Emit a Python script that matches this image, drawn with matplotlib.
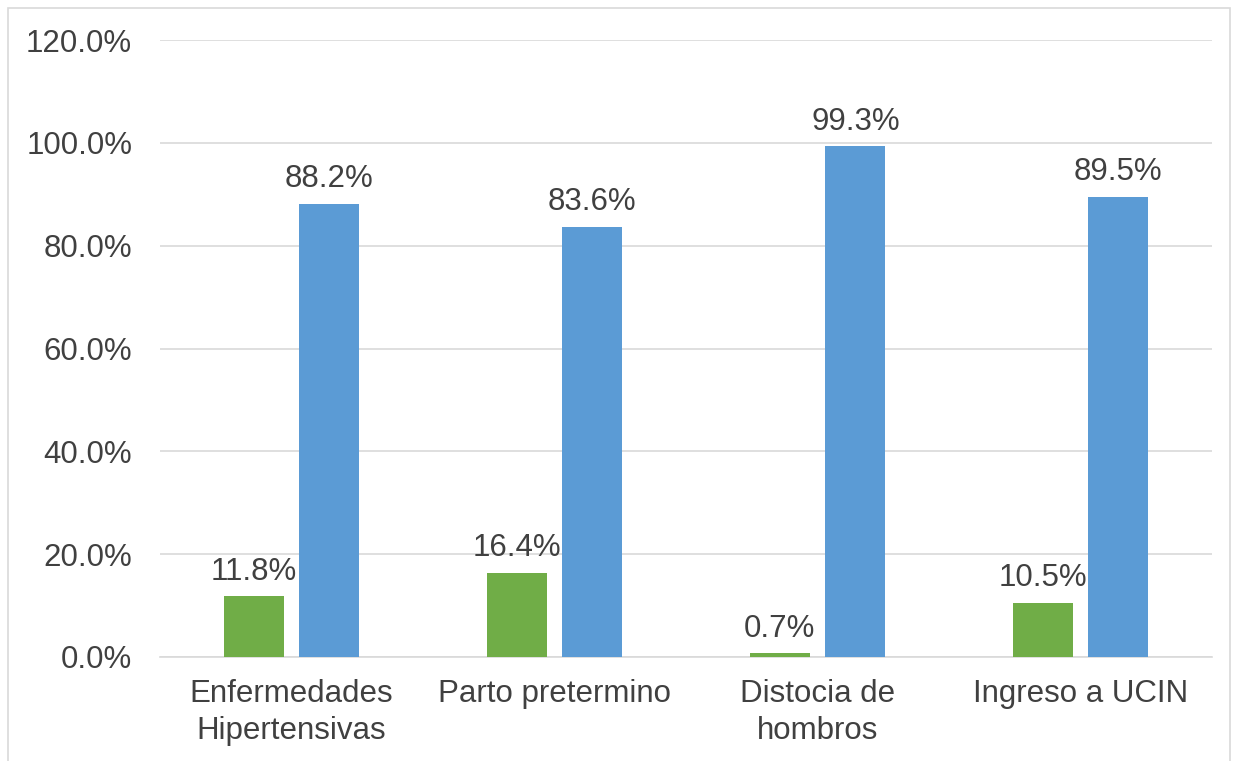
import numpy as np
import matplotlib.pyplot as plt
from matplotlib.patches import Rectangle
from matplotlib.ticker import FuncFormatter

plt.rcParams['font.family'] = ['Liberation Sans', 'DejaVu Sans']

categorias = ['Enfermedades\nHipertensivas', 'Parto pretermino', 'Distocia de\nhombros', 'Ingreso a UCIN']
serie_si = [11.8, 16.4, 0.7, 10.5]
serie_no = [88.2, 83.6, 99.3, 89.5]

VERDE = '#70AD47'
AZUL = '#5B9BD5'
TEXTO = '#404040'

fig = plt.figure(figsize=(12.39, 7.61), dpi=100)
ax = fig.add_axes([160 / 1239, 1 - 657 / 761, 1052 / 1239, 617 / 761])

x = np.arange(len(categorias))
ancho = 0.228
desp = 0.144
b1 = ax.bar(x - desp, serie_si, ancho, color=VERDE, zorder=3)
b2 = ax.bar(x + desp, serie_no, ancho, color=AZUL, zorder=3)

for barras, vals in [(b1, serie_si), (b2, serie_no)]:
    for b, v in zip(barras, vals):
        ax.annotate(f'{v:.1f}%', (b.get_x() + b.get_width() / 2, v),
                    xytext=(0, 7), textcoords='offset points',
                    ha='center', va='bottom', fontsize=22.5, color=TEXTO, zorder=4)

ax.set_xlim(-0.5, len(categorias) - 0.5)
ax.set_ylim(0, 120)
ax.set_yticks(np.arange(0, 121, 20))
ax.yaxis.set_major_formatter(FuncFormatter(lambda v, p: f'{v:.1f}%'))
ax.set_xticks(x)
ax.set_xticklabels(categorias, fontsize=22.5, color=TEXTO, linespacing=1.3)
ax.tick_params(axis='y', labelsize=22.5, labelcolor=TEXTO, length=0, pad=20)
ax.tick_params(axis='x', length=0, pad=16)

ax.grid(axis='y', color='#D9D9D9', linewidth=1.2, zorder=0)
for s in ['top', 'right', 'left']:
    ax.spines[s].set_visible(False)
ax.spines['bottom'].set_color('#D9D9D9')
ax.spines['bottom'].set_linewidth(1.2)

# borde del área del gráfico
fig.patches.append(Rectangle((8 / 1239, -0.01), 1222 / 1239, 1 - 8 / 761 + 0.01,
                             transform=fig.transFigure, fill=False,
                             edgecolor='#D9D9D9', linewidth=1.2))

fig.savefig('out.png', dpi=100)
